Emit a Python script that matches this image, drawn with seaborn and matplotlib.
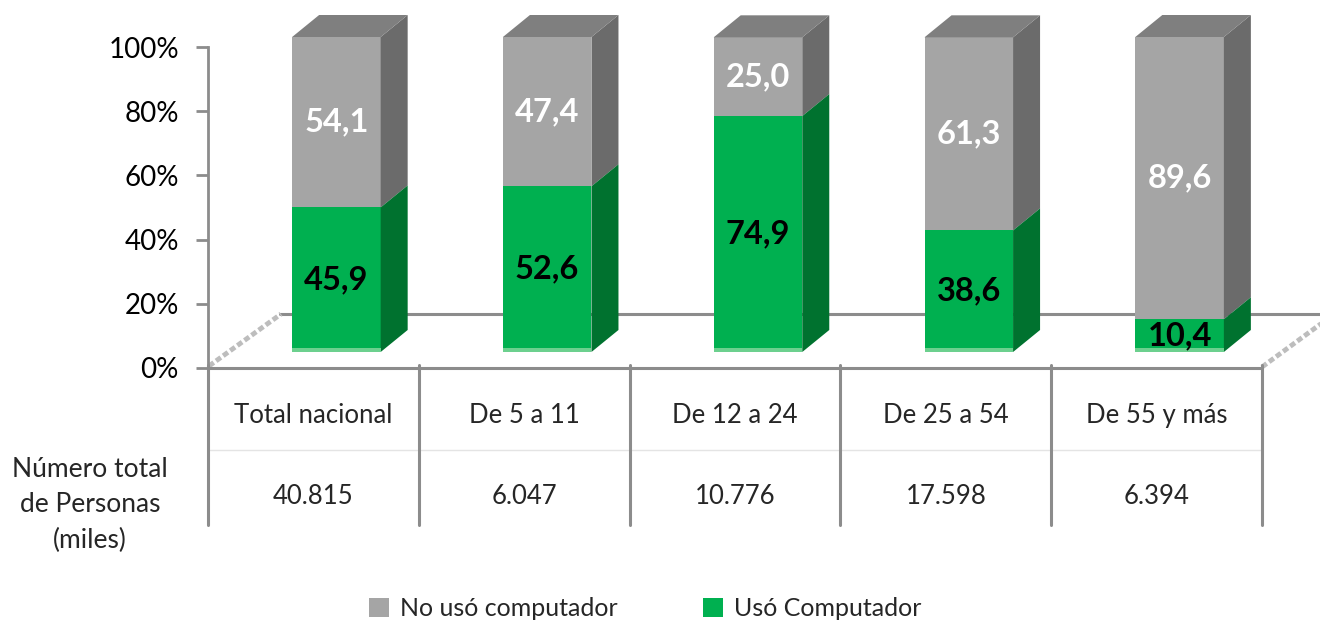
import matplotlib
matplotlib.use("Agg")
import matplotlib.pyplot as plt
from matplotlib.patches import Polygon, Rectangle
import seaborn as sns
import pandas as pd

# datos
grupos = ["Total nacional", "De 5 a 11", "De 12 a 24", "De 25 a 54", "De 55 y más"]
uso_computador = [45.9, 52.6, 74.9, 38.6, 10.4]
no_uso_computador = [54.1, 47.4, 25.0, 61.3, 89.6]
personas_miles = [40815, 6047, 10776, 17598, 6394]
yticks = [0, 20, 40, 60, 80, 100]

sns.set_theme(style="white")
plt.rcParams["font.family"] = ["Lato", "DejaVu Sans"]

GRIS, GRIS_LADO, GRIS_TOPE = "#A5A5A5", "#6B6B6B", "#7F7F7F"
VERDE, VERDE_LADO, VERDE_BASE = "#00B050", "#00722F", "#6CD08E"
LINEA = "#8C8C8C"

W, H = 1320, 623
fig = plt.figure(figsize=(W / 100, H / 100), dpi=100)


def caja(x0, x1, ytop, ybot):
    # posición en fracción de figura a partir de pixeles
    return [x0 / W, 1 - ybot / H, (x1 - x0) / W, (ybot - ytop) / H]


# capa de fondo: piso en perspectiva
fondo = fig.add_axes([0, 0, 1, 1])
fondo.set_xlim(0, W)
fondo.set_ylim(H, 0)
fondo.axis("off")
fondo.set_zorder(0)
fondo.plot([280, W], [314, 314], color=LINEA, lw=2.2)
fondo.plot([209, 281], [366, 314], color="#BDBDBD", lw=3.5, ls=(0, (1.2, 0.6)))
fondo.plot([1262, 1322], [367, 323], color="#BDBDBD", lw=3.5, ls=(0, (1.2, 0.6)))

# barras
ax = fig.add_axes(caja(231, 1285, 37, 352))
ax.set_zorder(2)
ax.patch.set_visible(False)

df = pd.DataFrame({
    "grupo": grupos,
    "total": [u + n for u, n in zip(uso_computador, no_uso_computador)],
    "uso": uso_computador,
})
sns.barplot(data=df, x="grupo", y="total", color=GRIS, saturation=1, width=0.42,
            linewidth=0, edgecolor="none", ax=ax, label="No usó computador")
sns.barplot(data=df, x="grupo", y="uso", color=VERDE, saturation=1, width=0.42,
            linewidth=0, edgecolor="none", ax=ax, label="Usó Computador")
ax.set_xlim(-0.5, len(grupos) - 0.5)
ax.set_ylim(0, 100)
ax.axis("off")
if ax.get_legend():
    ax.get_legend().remove()

# profundidad 3D en unidades de datos
pos = ax.get_position()
px_x = pos.width * W / len(grupos)
px_y = pos.height * H / 100
dx, dy = 27 / px_x, 22 / px_y

n = len(grupos)
barras_gris = ax.patches[:n]
barras_verde = ax.patches[n:2 * n]
for bg, bv in zip(barras_gris, barras_verde):
    x0, x1 = bg.get_x(), bg.get_x() + bg.get_width()
    tot, u = bg.get_height(), bv.get_height()
    ax.add_patch(Polygon([(x1, u), (x1 + dx, u + dy), (x1 + dx, tot + dy), (x1, tot)],
                         closed=True, fc=GRIS_LADO, ec="none", clip_on=False))
    ax.add_patch(Polygon([(x1, 0), (x1 + dx, dy), (x1 + dx, u + dy), (x1, u)],
                         closed=True, fc=VERDE_LADO, ec="none", clip_on=False))
    ax.add_patch(Polygon([(x0, tot), (x0 + dx, tot + dy), (x1 + dx, tot + dy), (x1, tot)],
                         closed=True, fc=GRIS_TOPE, ec="none", clip_on=False))
    ax.add_patch(Rectangle((x0, 0), x1 - x0, 4 / px_y, fc=VERDE_BASE, ec="none", clip_on=False))

# etiquetas de valores
for i, (u, nu) in enumerate(zip(uso_computador, no_uso_computador)):
    xc = barras_gris[i].get_x() + barras_gris[i].get_width() / 2
    ax.text(xc, u / 2, f"{u:.1f}".replace(".", ","), ha="center", va="center",
            fontsize=23.5, fontweight="bold", color="black")
    ax.text(xc, u + nu / 2, f"{nu:.1f}".replace(".", ","), ha="center", va="center",
            fontsize=23.5, fontweight="bold", color="white")

# eje y
ay = fig.add_axes(caja(208, 209, 47, 368))
ay.set_ylim(0, 100)
ay.set_xticks([])
ay.set_yticks(yticks)
ay.set_yticklabels([f"{t}%" for t in yticks])
for s in ["top", "right", "bottom"]:
    ay.spines[s].set_visible(False)
ay.spines["left"].set_color(LINEA)
ay.spines["left"].set_linewidth(2)
ay.tick_params(axis="y", left=True, direction="out", length=9, width=2,
               color=LINEA, labelsize=20, pad=12, labelcolor="black")
ay.patch.set_visible(False)

# tabla de datos
at = fig.add_axes(caja(208, 1262, 368, 525))
at.set_xlim(-0.5, n - 0.5)
at.set_ylim(1, 0)
at.axis("off")
at.patch.set_visible(False)
at.axhline(0, color=LINEA, lw=2.2, clip_on=False)
at.axhline(0.52, color="#E4E4E4", lw=1)
for b in range(n + 1):
    at.plot([b - 0.5, b - 0.5], [-0.02, 1], color=LINEA, lw=2.2, clip_on=False)
for i, (g, p) in enumerate(zip(grupos, personas_miles)):
    at.text(i, 0.30, g, ha="center", va="center", fontsize=18.5)
    at.text(i, 0.82, f"{p:,}".replace(",", "."), ha="center", va="center", fontsize=18.5)
fig.text(90 / W, 1 - 505 / H, "Número total\nde Personas\n(miles)", ha="center",
         va="center", fontsize=19, linespacing=1.5)

# leyenda
handles = [barras_gris[0], barras_verde[0]]
fig.legend(handles, ["No usó computador", "Usó Computador"], loc="center",
           bbox_to_anchor=(645 / W, 1 - 609 / H), ncol=2, frameon=False, fontsize=18,
           handlelength=0.8, handleheight=0.8, handletextpad=0.45, columnspacing=3.4)

fig.savefig("out.png", dpi=100)
